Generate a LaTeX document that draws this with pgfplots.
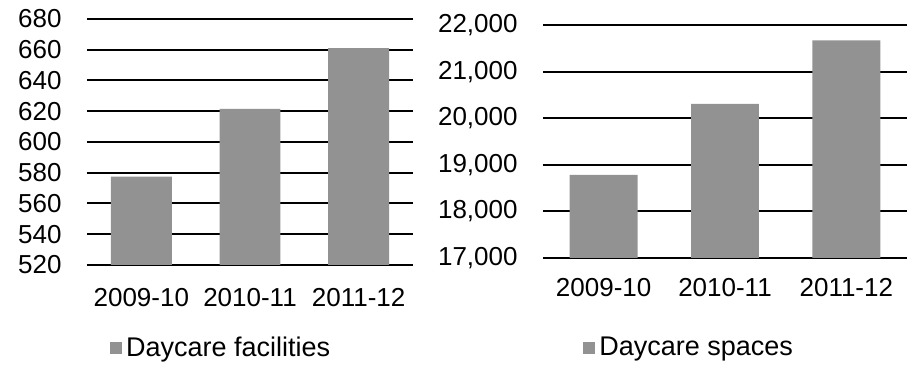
\documentclass[border=0pt]{standalone}
\usepackage{pgfplots}
\pgfplotsset{compat=1.18}
\usepackage{fontspec}
\setmainfont{Liberation Sans}
\definecolor{barcol}{RGB}{146,146,146}
\pgfplotsset{
  mybars/.style={
    scale only axis,
    ybar,
    bar width=0.56,
    xmin=-0.5, xmax=2.5,
    xtick={0,1,2},
    xticklabels={2009-10,2010-11,2011-12},
    axis line style={draw=none},
    major tick length=0pt,
    ymajorgrids,
    grid style={black, line width=1pt},
    tick label style={font=\fontsize{13}{15}\selectfont},
    /pgf/number format/assume math mode=true,
    yticklabel style={inner sep=0pt, anchor=east, xshift=-12.5pt},
    xticklabel style={inner sep=0pt, anchor=center},
    legend style={draw=none, fill=none, font=\fontsize{13.5}{15}\selectfont, inner sep=0pt, anchor=west},
    legend image code/.code={\fill[barcol] (0pt,-3pt) rectangle (6pt,3pt);},
  }
}
\begin{document}
\begin{tikzpicture}
\useasboundingbox (0,0) rectangle (454.5pt,184.5pt);
\begin{axis}[mybars,
  at={(43.5pt,52pt)}, anchor=south west,
  width=163pt, height=123pt,
  ymin=520, ymax=680, ytick={520,540,...,680},
  xticklabel style={yshift=-16.5pt},
  legend style={at={(0.07,-0.337)}},
]
\addplot[fill=barcol, draw=none] coordinates {(0,577.5) (1,621.5) (2,661)};
\addlegendentry{Daycare facilities}
\end{axis}
\begin{axis}[mybars,
  at={(271.5pt,55.5pt)}, anchor=south west,
  width=182pt, height=116.5pt,
  ymin=17000, ymax=22000, ytick={17000,18000,...,22000},
  scaled y ticks=false,
  yticklabel style={/pgf/number format/.cd, 1000 sep={,}},
  xticklabel style={yshift=-15pt},
  legend style={at={(0.11,-0.386)}},
]
\addplot[fill=barcol, draw=none] coordinates {(0,18785) (1,20305) (2,21670)};
\addlegendentry{Daycare spaces}
\end{axis}
\end{tikzpicture}
\end{document}
